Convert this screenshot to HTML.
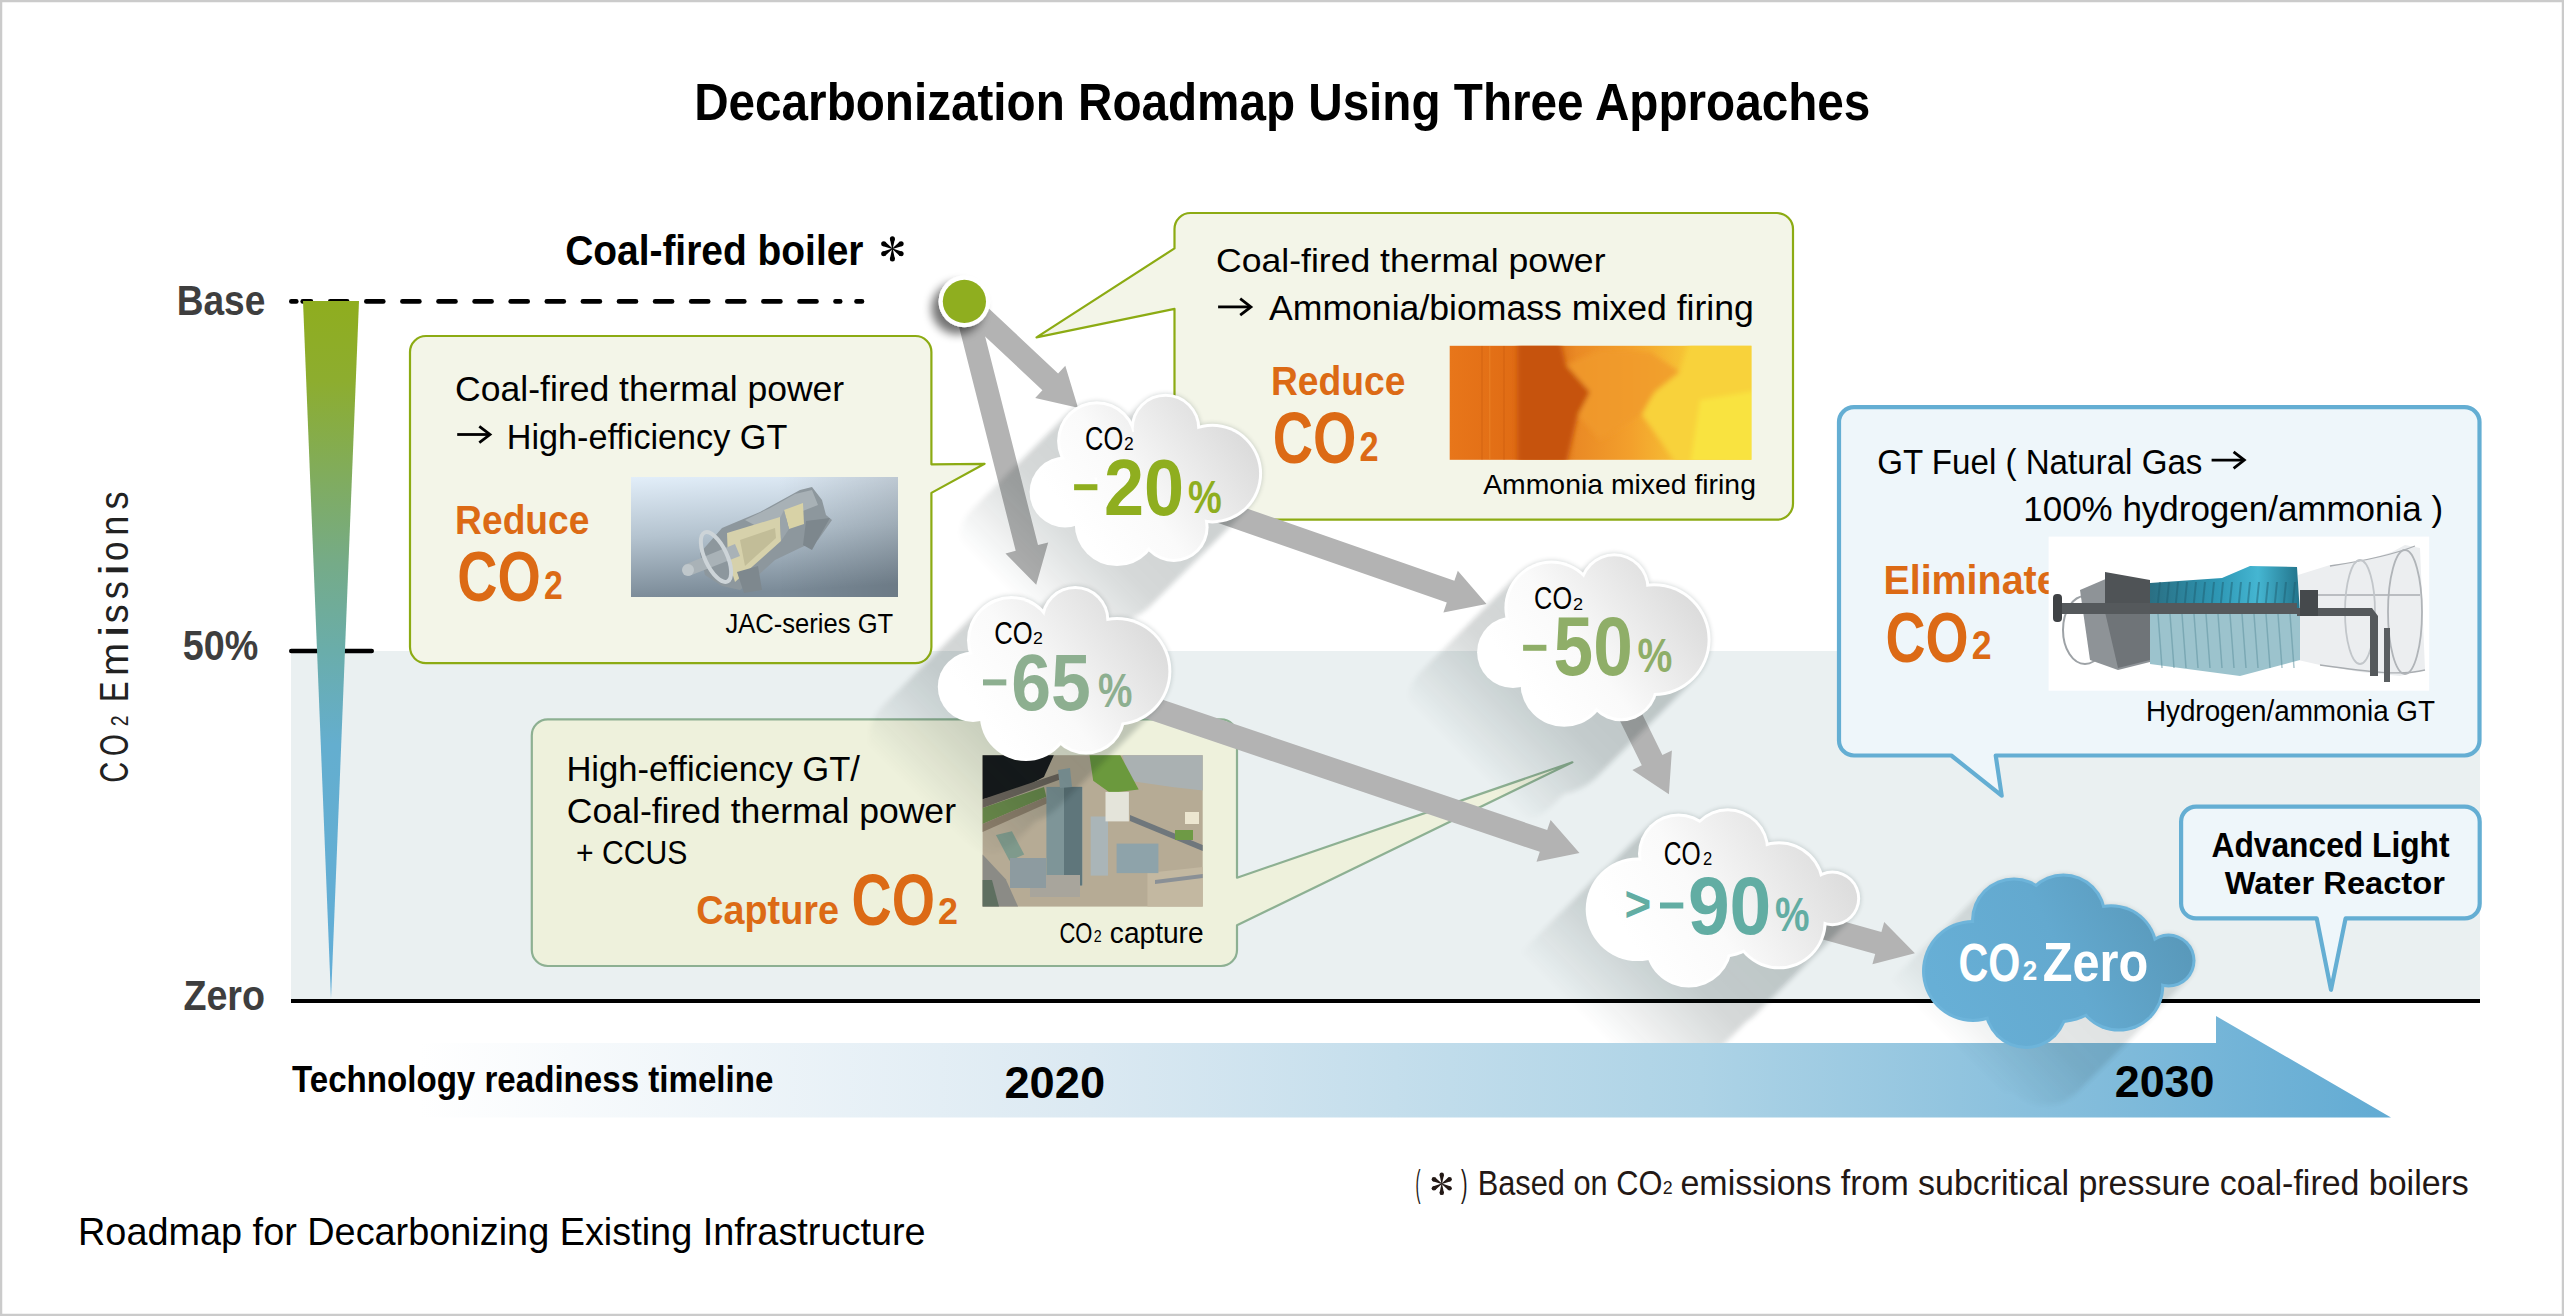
<!DOCTYPE html><html><head><meta charset="utf-8"><title>Decarbonization Roadmap</title><style>html,body{margin:0;padding:0;background:#fff;width:2564px;height:1316px;overflow:hidden}text{font-family:"Liberation Sans",sans-serif}</style></head><body><svg width="2564" height="1316" viewBox="0 0 2564 1316" style="display:block"><defs><g id="sil_c20"><circle cx="1096.9" cy="441" r="39.8"/><circle cx="1165.5" cy="428.5" r="34.8"/><circle cx="1212.3" cy="473.6" r="49.8"/><circle cx="1173.8" cy="527.2" r="34.8"/><circle cx="1117" cy="523.8" r="42.3"/><circle cx="1065.1" cy="492" r="35.5"/><circle cx="1147" cy="480" r="53"/></g><linearGradient id="g_c20" gradientUnits="userSpaceOnUse" x1="1082.6" y1="533.0999999999999" x2="1239.1" y2="416.7"><stop offset="0" stop-color="#ffffff"/><stop offset="0.35" stop-color="#fafafa"/><stop offset="1" stop-color="#d9d9d9"/></linearGradient><linearGradient id="sm_c20" gradientUnits="userSpaceOnUse" x1="1145.85" y1="479.9" x2="1020.8499999999999" y2="604.9"><stop offset="0" stop-color="#fff"/><stop offset="0.45" stop-color="#fff" stop-opacity="0.85"/><stop offset="0.75" stop-color="#fff" stop-opacity="0.4"/><stop offset="1" stop-color="#fff" stop-opacity="0"/></linearGradient><mask id="m_c20" maskUnits="userSpaceOnUse" x="0" y="0" width="2564" height="1316"><rect x="0" y="0" width="2564" height="1043" fill="url(#sm_c20)"/></mask><g id="sil_c65"><circle cx="1011.3" cy="640.3" r="44.3"/><circle cx="1075.2" cy="620.2" r="34.2"/><circle cx="1117.1" cy="671.3" r="54.3"/><circle cx="1086" cy="715" r="39.5"/><circle cx="1025.9" cy="715" r="46.1"/><circle cx="973" cy="686.8" r="35.2"/><circle cx="1050" cy="675" r="53"/></g><linearGradient id="g_c65" gradientUnits="userSpaceOnUse" x1="990.8" y1="728.1" x2="1148.3999999999999" y2="609.0"><stop offset="0" stop-color="#ffffff"/><stop offset="0.35" stop-color="#fafafa"/><stop offset="1" stop-color="#d9d9d9"/></linearGradient><linearGradient id="sm_c65" gradientUnits="userSpaceOnUse" x1="1054.6" y1="673.55" x2="924.5999999999999" y2="803.55"><stop offset="0" stop-color="#fff"/><stop offset="0.45" stop-color="#fff" stop-opacity="0.85"/><stop offset="0.75" stop-color="#fff" stop-opacity="0.4"/><stop offset="1" stop-color="#fff" stop-opacity="0"/></linearGradient><mask id="m_c65" maskUnits="userSpaceOnUse" x="0" y="0" width="2564" height="1316"><rect x="0" y="0" width="2564" height="1043" fill="url(#sm_c65)"/></mask><g id="sil_c50"><circle cx="1551.6" cy="607.8" r="47.2"/><circle cx="1614.3" cy="588.4" r="35.2"/><circle cx="1654.2" cy="639.7" r="56.4"/><circle cx="1621.2" cy="684.2" r="37.0"/><circle cx="1564.2" cy="683" r="43.8"/><circle cx="1512.9" cy="652.2" r="35.8"/><circle cx="1590" cy="640" r="53"/></g><linearGradient id="g_c50" gradientUnits="userSpaceOnUse" x1="1530.1000000000001" y1="693.8" x2="1687.6000000000001" y2="576.1999999999999"><stop offset="0" stop-color="#ffffff"/><stop offset="0.35" stop-color="#fafafa"/><stop offset="1" stop-color="#d9d9d9"/></linearGradient><linearGradient id="sm_c50" gradientUnits="userSpaceOnUse" x1="1593.8500000000001" y1="640.0" x2="1468.8500000000001" y2="765.0"><stop offset="0" stop-color="#fff"/><stop offset="0.45" stop-color="#fff" stop-opacity="0.85"/><stop offset="0.75" stop-color="#fff" stop-opacity="0.4"/><stop offset="1" stop-color="#fff" stop-opacity="0"/></linearGradient><mask id="m_c50" maskUnits="userSpaceOnUse" x="0" y="0" width="2564" height="1316"><rect x="0" y="0" width="2564" height="1043" fill="url(#sm_c50)"/></mask><g id="sil_c90"><circle cx="1678.5" cy="853.9" r="40.5"/><circle cx="1727.7" cy="849.8" r="41.5"/><circle cx="1779" cy="886.7" r="45.5"/><circle cx="1832.4" cy="898.4" r="27.8"/><circle cx="1779" cy="921.6" r="47.7"/><circle cx="1688.8" cy="944.1" r="43.5"/><circle cx="1637.5" cy="909.3" r="51.8"/><circle cx="1720" cy="900" r="58"/></g><linearGradient id="g_c90" gradientUnits="userSpaceOnUse" x1="1638.7" y1="954.6" x2="1837.2" y2="831.3"><stop offset="0" stop-color="#ffffff"/><stop offset="0.35" stop-color="#fafafa"/><stop offset="1" stop-color="#d9d9d9"/></linearGradient><linearGradient id="sm_c90" gradientUnits="userSpaceOnUse" x1="1722.95" y1="897.95" x2="1592.95" y2="1027.95"><stop offset="0" stop-color="#fff"/><stop offset="0.45" stop-color="#fff" stop-opacity="0.85"/><stop offset="0.75" stop-color="#fff" stop-opacity="0.4"/><stop offset="1" stop-color="#fff" stop-opacity="0"/></linearGradient><mask id="m_c90" maskUnits="userSpaceOnUse" x="0" y="0" width="2564" height="1316"><rect x="0" y="0" width="2564" height="1043" fill="url(#sm_c90)"/></mask><g id="sil_cz"><circle cx="2014" cy="920.5" r="43"/><circle cx="2063.4" cy="916.5" r="43"/><circle cx="2111.2" cy="951.2" r="47"/><circle cx="2168.5" cy="960.6" r="27"/><circle cx="2118.8" cy="986.1" r="45.5"/><circle cx="2026.1" cy="1007" r="42"/><circle cx="1973" cy="970.9" r="51"/><circle cx="2060" cy="965" r="58"/></g><linearGradient id="g_cz" gradientUnits="userSpaceOnUse" x1="1955" y1="1026" x2="2182.5" y2="906.5"><stop offset="0" stop-color="#67afd6"/><stop offset="0.5" stop-color="#63a9cf"/><stop offset="1" stop-color="#5897b8"/></linearGradient><linearGradient id="sm_cz" gradientUnits="userSpaceOnUse" x1="2058.75" y1="961.25" x2="1963.75" y2="1056.25"><stop offset="0" stop-color="#fff"/><stop offset="0.45" stop-color="#fff" stop-opacity="0.85"/><stop offset="0.75" stop-color="#fff" stop-opacity="0.4"/><stop offset="1" stop-color="#fff" stop-opacity="0"/></linearGradient><mask id="m_cz" maskUnits="userSpaceOnUse" x="0" y="0" width="2564" height="1316"><rect x="0" y="0" width="2564" height="1117" fill="url(#sm_cz)"/></mask><linearGradient id="band" gradientUnits="userSpaceOnUse" x1="420" y1="0" x2="2391" y2="0"><stop offset="0" stop-color="#ffffff"/><stop offset="0.34" stop-color="#dbe9f2"/><stop offset="0.65" stop-color="#add3e6"/><stop offset="1" stop-color="#62abd3"/></linearGradient><linearGradient id="wedge" gradientUnits="userSpaceOnUse" x1="0" y1="301" x2="0" y2="999"><stop offset="0" stop-color="#8fad1f"/><stop offset="0.115" stop-color="#8dad2f"/><stop offset="0.377" stop-color="#75ab88"/><stop offset="0.5" stop-color="#6aadaa"/><stop offset="0.636" stop-color="#64aecf"/><stop offset="1" stop-color="#62aed8"/></linearGradient><linearGradient id="jac" x1="0" y1="0" x2="0.12" y2="1"><stop offset="0" stop-color="#e2eef9"/><stop offset="0.5" stop-color="#b4c3cf"/><stop offset="1" stop-color="#7b8b98"/></linearGradient><linearGradient id="jac2" x1="0" y1="0" x2="1" y2="0"><stop offset="0.55" stop-color="#000" stop-opacity="0"/><stop offset="1" stop-color="#000" stop-opacity="0.12"/></linearGradient><linearGradient id="amm" x1="0" y1="0" x2="1" y2="0"><stop offset="0" stop-color="#e8761a"/><stop offset="0.22" stop-color="#e06c14"/><stop offset="0.3" stop-color="#d06010"/><stop offset="0.42" stop-color="#ea8a25"/><stop offset="0.6" stop-color="#f3a02c"/><stop offset="0.78" stop-color="#f6c436"/><stop offset="1" stop-color="#f8dc3c"/></linearGradient><clipPath id="ammclip"><rect x="1449.7" y="345.8" width="301.7" height="114"/></clipPath><filter id="blur2b" x="-10%" y="-10%" width="120%" height="120%"><feGaussianBlur stdDeviation="2.5"/></filter><linearGradient id="teal" x1="0" y1="0" x2="1" y2="0"><stop offset="0" stop-color="#2a6f83"/><stop offset="0.45" stop-color="#2e97b4"/><stop offset="0.72" stop-color="#45b6d2"/><stop offset="1" stop-color="#22738a"/></linearGradient><clipPath id="elclip"><rect x="1800" y="540" width="248.6" height="80"/></clipPath><filter id="dotsh" x="-50%" y="-50%" width="200%" height="200%"><feGaussianBlur in="SourceAlpha" stdDeviation="5"/><feOffset dx="-7" dy="7"/><feComponentTransfer><feFuncA type="linear" slope="0.55"/></feComponentTransfer><feMerge><feMergeNode/><feMergeNode in="SourceGraphic"/></feMerge></filter><filter id="blur4" x="-20%" y="-20%" width="140%" height="140%"><feGaussianBlur stdDeviation="4"/></filter><filter id="blur2" x="-20%" y="-20%" width="140%" height="140%"><feGaussianBlur stdDeviation="2.5"/></filter></defs><rect x="0" y="0" width="2564" height="1316" fill="#fff"/>
<rect x="1" y="1" width="2562" height="1314" fill="none" stroke="#cbcbcb" stroke-width="2.5"/>
<rect x="291" y="651" width="2189" height="350" fill="#eaf0f1"/>
<polygon fill="url(#band)" points="291,1043 2216,1043 2216,1016 2391,1117.5 291,1117.5"/>
<rect x="291" y="999" width="2189" height="4" fill="#000"/>
<line x1="291.3" y1="651" x2="371.7" y2="651" stroke="#000" stroke-width="4.6" stroke-linecap="round"/>
<line x1="291.3" y1="301.4" x2="296.3" y2="301.4" stroke="#000" stroke-width="4.6" stroke-linecap="round"/>
<line x1="302.7" y1="301.4" x2="311.0" y2="301.4" stroke="#000" stroke-width="4.6" stroke-linecap="round"/>
<line x1="330.2" y1="301.4" x2="347.2" y2="301.4" stroke="#000" stroke-width="4.6" stroke-linecap="round"/>
<line x1="366.3" y1="301.4" x2="383.3" y2="301.4" stroke="#000" stroke-width="4.6" stroke-linecap="round"/>
<line x1="402.4" y1="301.4" x2="419.4" y2="301.4" stroke="#000" stroke-width="4.6" stroke-linecap="round"/>
<line x1="438.5" y1="301.4" x2="455.5" y2="301.4" stroke="#000" stroke-width="4.6" stroke-linecap="round"/>
<line x1="474.59999999999997" y1="301.4" x2="491.59999999999997" y2="301.4" stroke="#000" stroke-width="4.6" stroke-linecap="round"/>
<line x1="510.7" y1="301.4" x2="527.7" y2="301.4" stroke="#000" stroke-width="4.6" stroke-linecap="round"/>
<line x1="546.8" y1="301.4" x2="563.8000000000001" y2="301.4" stroke="#000" stroke-width="4.6" stroke-linecap="round"/>
<line x1="582.9" y1="301.4" x2="599.9000000000001" y2="301.4" stroke="#000" stroke-width="4.6" stroke-linecap="round"/>
<line x1="619.0" y1="301.4" x2="636.0000000000001" y2="301.4" stroke="#000" stroke-width="4.6" stroke-linecap="round"/>
<line x1="655.0999999999999" y1="301.4" x2="672.1" y2="301.4" stroke="#000" stroke-width="4.6" stroke-linecap="round"/>
<line x1="691.1999999999999" y1="301.4" x2="708.2" y2="301.4" stroke="#000" stroke-width="4.6" stroke-linecap="round"/>
<line x1="727.3" y1="301.4" x2="744.3000000000001" y2="301.4" stroke="#000" stroke-width="4.6" stroke-linecap="round"/>
<line x1="763.4" y1="301.4" x2="780.4000000000001" y2="301.4" stroke="#000" stroke-width="4.6" stroke-linecap="round"/>
<line x1="799.5" y1="301.4" x2="816.5000000000001" y2="301.4" stroke="#000" stroke-width="4.6" stroke-linecap="round"/>
<line x1="835.5" y1="301.4" x2="840.2" y2="301.4" stroke="#000" stroke-width="4.6" stroke-linecap="round"/>
<line x1="856.5" y1="301.4" x2="862.0" y2="301.4" stroke="#000" stroke-width="4.6" stroke-linecap="round"/>
<polygon fill="url(#wedge)" points="303,301 359,301 331,999"/>
<path d="M426,336 L915.4,336 A16,16 0 0 1 931.4,352 L931.4,464.3 L984.6,463.8 L931.4,492.9 L931.4,647.1 A16,16 0 0 1 915.4,663.1 L426,663.1 A16,16 0 0 1 410,647.1 L410,352 A16,16 0 0 1 426,336 Z" fill="#f3f5e8" stroke="#8cab13" stroke-width="2.2" stroke-linejoin="round"/>
<path d="M1190.5,213 L1777,213 A16,16 0 0 1 1793,229 L1793,503.70000000000005 A16,16 0 0 1 1777,519.7 L1190.5,519.7 A16,16 0 0 1 1174.5,503.70000000000005 L1174.5,308.9 L1036.5,337.4 L1174.5,248.4 L1174.5,229 A16,16 0 0 1 1190.5,213 Z" fill="#f3f5e8" stroke="#8cab13" stroke-width="2.2" stroke-linejoin="round"/>
<path d="M547.8,719.4 L1221,719.4 A16,16 0 0 1 1237,735.4 L1237,877.7 L1572.4,762.3 L1237,925.2 L1237,950 A16,16 0 0 1 1221,966 L547.8,966 A16,16 0 0 1 531.8,950 L531.8,735.4 A16,16 0 0 1 547.8,719.4 Z" fill="#eef1dc" stroke="#8db092" stroke-width="2.2" stroke-linejoin="round"/>
<path d="M1854,407.1 L2464.5,407.1 A15,15 0 0 1 2479.5,422.1 L2479.5,740.5 A15,15 0 0 1 2464.5,755.5 L1995.7,755.5 L2001.7,795.7 L1951.3,755.5 L1854,755.5 A15,15 0 0 1 1839,740.5 L1839,422.1 A15,15 0 0 1 1854,407.1 Z" fill="#eef6fa" stroke="#64aed3" stroke-width="4.2" stroke-linejoin="round"/>
<path d="M2196.1,806.7 L2464.7,806.7 A15,15 0 0 1 2479.7,821.7 L2479.7,903.4 A15,15 0 0 1 2464.7,918.4 L2345.6,918.4 L2331,989.8 L2316.7,918.4 L2196.1,918.4 A15,15 0 0 1 2181.1,903.4 L2181.1,821.7 A15,15 0 0 1 2196.1,806.7 Z" fill="#eef6fa" stroke="#64aed3" stroke-width="4.2" stroke-linejoin="round"/>
<rect x="631" y="477" width="267" height="120" fill="url(#jac)"/>
<rect x="631" y="477" width="267" height="120" fill="url(#jac2)"/>
<g><polygon points="700,553 722,528 760,512 800,490 812,487 822,500 826,515 832,520 818,540 800,548 775,560 755,578 740,590 722,586 705,575" fill="#8d979d"/><polygon points="745,520 770,508 795,494 812,490 818,505 790,516 760,528" fill="#a8b1b6"/><polygon points="727,533 780,517 781,541 735,582 728,560" fill="#d6d1ab"/><polygon points="740,540 775,528 776,538 745,566" fill="#c2bd98"/><polygon points="784,510 803,503 804,524 789,529" fill="#d8d2a6"/><polygon points="780,518 784,510 789,529 781,541" fill="#9aa4aa"/><polygon points="806,521 830,518 822,532 812,550 803,545" fill="#7d878d"/><polygon points="737,572 758,566 762,590 744,593" fill="#7e888e"/><polygon points="684,565 735,544 740,556 689,576" fill="#a9b2b7"/><ellipse cx="716" cy="557" rx="11" ry="27" transform="rotate(-25 716 557)" fill="none" stroke="#cdd4d8" stroke-width="4"/><circle cx="688" cy="570" r="6" fill="#bfc7cb"/></g>
<rect x="1449.7" y="345.8" width="301.7" height="114" fill="url(#amm)"/>
<g clip-path="url(#ammclip)"><g filter="url(#blur2b)"><polygon points="1517.4,340 1559.8,340 1566,365 1590,392 1578,415 1566,465 1517.4,465" fill="#c65210"/><polygon points="1690,340 1760,340 1760,465 1677,465 1660,440 1642,415 1655,390 1680,370" fill="#f8d23a"/><polygon points="1700,400 1760,390 1760,465 1690,465" fill="#f9e341"/><polygon points="1566,365 1600,350 1650,352 1680,372 1655,392 1640,415 1600,440 1578,415 1590,392" fill="#f09a2c" opacity="0.8"/></g><g opacity="0.3"><rect x="1481" y="345.8" width="2" height="114" fill="#c65a10"/><rect x="1489" y="345.8" width="1.5" height="114" fill="#f59a38"/><rect x="1503" y="345.8" width="2" height="114" fill="#c65a10"/></g></g>
<g><rect x="982.6" y="755.2" width="220.1" height="151.4" fill="#b6ab95"/><polygon points="1122.7,755.2 1202.7,755.2 1202.7,790.6 1172,786.9 1128.9,780.8" fill="#aab1b2"/><polygon points="1089.5,755.2 1120.3,755.2 1138.7,789.4 1110.4,793.1 1093.2,780.8" fill="#6b993d"/><polygon points="982.6,755.2 1053.8,755.2 1043.9,777.1 1018.1,790.6 982.6,799.2" fill="#16181a"/><polygon points="982.6,799.2 1058.7,773.4 1060,779.5 982.6,807.9" fill="#6d655c"/><polygon points="982.6,807.9 1044,786.9 1046.4,796.8 982.6,823.9" fill="#6a8a4a"/><polygon points="982.6,823.9 1046.4,796.8 1048,803 982.6,832" fill="#8c7e6a"/><polygon points="982.6,854.6 1005.8,879.3 1018.1,906.6 982.6,906.6" fill="#8b8b86"/><polygon points="982.6,880 992,880 999,906.6 982.6,906.6" fill="#5e6f60"/><polygon points="995.9,835 1011.9,831.2 1024.2,854.6 1009.5,860.8" fill="#7f9a8c"/><polygon points="1130,815 1202.7,845 1202.7,851 1130,821" fill="#6f777c"/><polygon points="1147.4,873.1 1202.7,867 1202.7,906.6 1147.4,906.6" fill="#c3b8a1"/><polygon points="1155,880 1202.7,874 1202.7,878 1155,884 M1160,893 1202.7,888 1202.7,892 1160,897" fill="#8a9096"/><rect x="1116.6" y="843.6" width="41.8" height="29.5" fill="#8ea3aa"/><rect x="1046.4" y="786.9" width="36" height="98.5" fill="#7e9598"/><rect x="1064" y="786.9" width="18" height="98.5" fill="#5f767b"/><polygon points="1058,770 1070,768 1072,787 1060,788" fill="#8aa1a5"/><rect x="1090.7" y="816.5" width="17.3" height="59.1" fill="#aab5b8"/><rect x="1105.5" y="791.9" width="23.4" height="29.5" fill="#e4e4da"/><rect x="1030" y="875" width="50" height="22" fill="#a8a59c"/><rect x="1010" y="858" width="36" height="30" fill="#8d9ba0"/><rect x="1175" y="830" width="18" height="10" fill="#6e9a45"/><rect x="1185" y="812" width="14" height="12" fill="#ece6d0"/></g>
<g><rect x="2048.6" y="536.6" width="380.6" height="154.1" fill="#ffffff"/><path d="M2298,575 L2330,565 L2360,562 L2392,552 L2405,545 L2420,548 L2425,670 L2400,676 L2360,672 L2320,665 L2298,660 Z" fill="#eceef0"/><path d="M2330,566 C2370,560 2400,552 2415,546 M2320,665 C2370,672 2400,676 2425,670 M2300,595 L2420,595" stroke="#a9adb1" stroke-width="1.3" fill="none"/><ellipse cx="2405" cy="612" rx="17" ry="62" fill="none" stroke="#b0b4b8" stroke-width="1.8"/><ellipse cx="2360" cy="612" rx="15" ry="52" fill="none" stroke="#c2c6ca" stroke-width="1.8"/><ellipse cx="2085" cy="630" rx="22" ry="34" fill="none" stroke="#9da2a6" stroke-width="2"/><path d="M2080,590 L2115,575 L2150,582 L2150,662 L2118,670 L2090,660 Z" fill="#8e9397"/><path d="M2105,572 L2150,580 L2150,612 L2105,612 Z" fill="#4f5356"/><path d="M2105,612 L2150,612 L2150,660 L2118,668 Z" fill="#6f7478"/><path d="M2150,610 L2300,612 L2300,660 L2240,676 L2150,664 Z" fill="#9cc3cd"/><path d="M2150,583 L2222,578 L2250,566 L2297,567 L2300,614 L2150,612 Z" fill="url(#teal)"/><g stroke="#1d5a6c" stroke-width="2" opacity="0.45"><line x1="2160" y1="582" x2="2157" y2="612"/><line x1="2169" y1="582" x2="2166" y2="612"/><line x1="2178" y1="582" x2="2175" y2="612"/><line x1="2187" y1="582" x2="2184" y2="612"/><line x1="2196" y1="582" x2="2193" y2="612"/><line x1="2205" y1="582" x2="2202" y2="612"/><line x1="2214" y1="582" x2="2211" y2="612"/><line x1="2223" y1="582" x2="2220" y2="612"/><line x1="2232" y1="582" x2="2229" y2="612"/><line x1="2241" y1="582" x2="2238" y2="612"/><line x1="2250" y1="582" x2="2247" y2="612"/><line x1="2259" y1="582" x2="2256" y2="612"/><line x1="2268" y1="582" x2="2265" y2="612"/><line x1="2277" y1="582" x2="2274" y2="612"/><line x1="2286" y1="582" x2="2283" y2="612"/><line x1="2295" y1="582" x2="2292" y2="612"/></g><g stroke="#5b8f9c" stroke-width="1.5" opacity="0.5"><line x1="2158" y1="614" x2="2162" y2="668"/><line x1="2170" y1="614" x2="2174" y2="668"/><line x1="2182" y1="614" x2="2186" y2="668"/><line x1="2194" y1="614" x2="2198" y2="668"/><line x1="2206" y1="614" x2="2210" y2="668"/><line x1="2218" y1="614" x2="2222" y2="668"/><line x1="2230" y1="614" x2="2234" y2="668"/><line x1="2242" y1="614" x2="2246" y2="668"/><line x1="2254" y1="614" x2="2258" y2="668"/><line x1="2266" y1="614" x2="2270" y2="668"/><line x1="2278" y1="614" x2="2282" y2="668"/><line x1="2290" y1="614" x2="2294" y2="668"/></g><rect x="2057" y="603" width="240" height="11" fill="#55595c"/><rect x="2053" y="594" width="9" height="28" rx="4" fill="#3f4245"/><path d="M2297,608 L2372,608 L2378,616 L2378,676 L2370,676 L2370,616 L2297,616 Z" fill="#55595c"/><rect x="2384" y="628" width="6" height="54" fill="#5a5e61"/><rect x="2300" y="590" width="18" height="26" fill="#45494c"/></g>
<g font-family='"Liberation Sans", sans-serif'>
<text x="694.23" y="120" font-size="51.59" font-weight="bold" fill="#000" textLength="1176.02" lengthAdjust="spacingAndGlyphs">Decarbonization Roadmap Using Three Approaches</text>
<text x="565.13" y="264.8" font-size="41.71" font-weight="bold" fill="#000" textLength="298.38" lengthAdjust="spacingAndGlyphs">Coal-fired boiler</text>
<text x="176.63" y="314.5" font-size="41.59" font-weight="bold" fill="#3e3e3e" textLength="88.63" lengthAdjust="spacingAndGlyphs">Base</text>
<text x="182.82" y="659.7" font-size="42.32" font-weight="bold" fill="#3e3e3e" textLength="75.47" lengthAdjust="spacingAndGlyphs">50%</text>
<text x="183.39" y="1009.7" font-size="41.59" font-weight="bold" fill="#3e3e3e" textLength="81.61" lengthAdjust="spacingAndGlyphs">Zero</text>
<text x="455.14" y="400.6" font-size="34.57" font-weight="normal" fill="#000" textLength="389.09" lengthAdjust="spacingAndGlyphs">Coal-fired thermal power</text>
<text x="506.69" y="448.5" font-size="35.22" font-weight="normal" fill="#000" textLength="280.59" lengthAdjust="spacingAndGlyphs">High-efficiency GT</text>
<text x="455.11" y="534" font-size="41.46" font-weight="bold" fill="#dc6a15" textLength="134.31" lengthAdjust="spacingAndGlyphs">Reduce</text>
<text x="457.34" y="601" font-size="70.86" font-weight="bold" fill="#dc6a15" textLength="83.52" lengthAdjust="spacingAndGlyphs">CO</text>
<text x="543.95" y="599" font-size="40.0" font-weight="bold" fill="#dc6a15" textLength="18.8" lengthAdjust="spacingAndGlyphs">2</text>
<text x="725.5" y="632.9" font-size="28.55" font-weight="normal" fill="#000" textLength="167.65" lengthAdjust="spacingAndGlyphs">JAC-series GT</text>
<text x="1216.0" y="271.8" font-size="33.86" font-weight="normal" fill="#000" textLength="389.48" lengthAdjust="spacingAndGlyphs">Coal-fired thermal power</text>
<text x="1269.0" y="319.8" font-size="35.33" font-weight="normal" fill="#000" textLength="484.83" lengthAdjust="spacingAndGlyphs">Ammonia/biomass mixed firing</text>
<text x="1270.99" y="394.9" font-size="41.17" font-weight="bold" fill="#dc6a15" textLength="134.42" lengthAdjust="spacingAndGlyphs">Reduce</text>
<text x="1272.66" y="462.6" font-size="71.43" font-weight="bold" fill="#dc6a15" textLength="83.67" lengthAdjust="spacingAndGlyphs">CO</text>
<text x="1359.48" y="460.8" font-size="41.71" font-weight="bold" fill="#dc6a15" textLength="19.11" lengthAdjust="spacingAndGlyphs">2</text>
<text x="1483.2" y="494" font-size="27.74" font-weight="normal" fill="#000" textLength="272.74" lengthAdjust="spacingAndGlyphs">Ammonia mixed firing</text>
<text x="566.39" y="781" font-size="35.65" font-weight="normal" fill="#000" textLength="293.59" lengthAdjust="spacingAndGlyphs">High-efficiency GT/</text>
<text x="566.78" y="822.7" font-size="35.14" font-weight="normal" fill="#000" textLength="389.21" lengthAdjust="spacingAndGlyphs">Coal-fired thermal power</text>
<text x="576.03" y="863.7" font-size="34.0" font-weight="normal" fill="#000" textLength="111.43" lengthAdjust="spacingAndGlyphs">+ CCUS</text>
<text x="696.3" y="924.3" font-size="39.86" font-weight="bold" fill="#dc6a15" textLength="142.66" lengthAdjust="spacingAndGlyphs">Capture</text>
<text x="851.46" y="925.1" font-size="71.43" font-weight="bold" fill="#dc6a15" textLength="83.46" lengthAdjust="spacingAndGlyphs">CO</text>
<text x="938.04" y="923.5" font-size="37.57" font-weight="bold" fill="#dc6a15" textLength="19.96" lengthAdjust="spacingAndGlyphs">2</text>
<text x="1059.41" y="942.8" font-size="29.43" font-weight="normal" fill="#000" textLength="32.92" lengthAdjust="spacingAndGlyphs">CO</text>
<text x="1093.77" y="942.4" font-size="17.29" font-weight="normal" fill="#000" textLength="7.93" lengthAdjust="spacingAndGlyphs">2</text>
<text x="1109.84" y="942.8" font-size="29.43" font-weight="normal" fill="#000" textLength="93.8" lengthAdjust="spacingAndGlyphs">capture</text>
<text x="1877.27" y="473.8" font-size="34.29" font-weight="normal" fill="#000" textLength="325.11" lengthAdjust="spacingAndGlyphs">GT Fuel ( Natural Gas</text>
<text x="2023.28" y="520.6" font-size="34.78" font-weight="normal" fill="#000" textLength="419.77" lengthAdjust="spacingAndGlyphs">100% hydrogen/ammonia )</text>
<text x="1885.47" y="661.6" font-size="71.29" font-weight="bold" fill="#dc6a15" textLength="83.09" lengthAdjust="spacingAndGlyphs">CO</text>
<text x="1971.84" y="659.4" font-size="41.29" font-weight="bold" fill="#dc6a15" textLength="19.85" lengthAdjust="spacingAndGlyphs">2</text>
<text x="2145.91" y="720.9" font-size="29.42" font-weight="normal" fill="#000" textLength="289.08" lengthAdjust="spacingAndGlyphs">Hydrogen/ammonia GT</text>
<text x="2211.48" y="857.2" font-size="34.49" font-weight="bold" fill="#000" textLength="238.12" lengthAdjust="spacingAndGlyphs">Advanced Light</text>
<text x="2224.7" y="893.5" font-size="31.59" font-weight="bold" fill="#000" textLength="220.22" lengthAdjust="spacingAndGlyphs">Water Reactor</text>
<text x="292.0" y="1092.2" font-size="36.23" font-weight="bold" fill="#000" textLength="481.33" lengthAdjust="spacingAndGlyphs">Technology readiness timeline</text>
<text x="1004.43" y="1097.6" font-size="43.71" font-weight="bold" fill="#000" textLength="100.65" lengthAdjust="spacingAndGlyphs">2020</text>
<text x="2114.71" y="1097.4" font-size="45.0" font-weight="bold" fill="#000" textLength="99.8" lengthAdjust="spacingAndGlyphs">2030</text>
<text x="1477.7" y="1194.6" font-size="35.51" font-weight="normal" fill="#231815" textLength="184.64" lengthAdjust="spacingAndGlyphs">Based on CO</text>
<text x="1662.76" y="1193.5" font-size="18.86" font-weight="normal" fill="#231815" textLength="9.9" lengthAdjust="spacingAndGlyphs">2</text>
<text x="1680.49" y="1194.6" font-size="35.51" font-weight="normal" fill="#231815" textLength="788.35" lengthAdjust="spacingAndGlyphs">emissions from subcritical pressure coal-fired boilers</text>
<text x="1415.58" y="1195.9" font-size="36.55" font-weight="normal" fill="#231815" textLength="4.99" lengthAdjust="spacingAndGlyphs">(</text>
<text x="1460.97" y="1195.9" font-size="36.55" font-weight="normal" fill="#231815" textLength="6.49" lengthAdjust="spacingAndGlyphs">)</text>
<text x="78.06" y="1244.9" font-size="38.55" font-weight="normal" fill="#000" textLength="847.56" lengthAdjust="spacingAndGlyphs">Roadmap for Decarbonizing Existing Infrastructure</text>
<g clip-path="url(#elclip)"><text x="1883.41" y="594" font-size="40.87" font-weight="bold" fill="#dc6a15" textLength="175.19" lengthAdjust="spacingAndGlyphs">Eliminate</text></g>
</g>
<line x1="457.2" y1="434.5" x2="489" y2="434.5" stroke="#000" stroke-width="2.8"/><polyline points="479.3,426.3 490,434.5 479.3,442.7" fill="none" stroke="#000" stroke-width="2.8" stroke-linejoin="miter"/>
<line x1="1218.1" y1="306.9" x2="1249.9" y2="306.9" stroke="#000" stroke-width="2.8"/><polyline points="1240.2,298.7 1250.9,306.9 1240.2,315.09999999999997" fill="none" stroke="#000" stroke-width="2.8" stroke-linejoin="miter"/>
<line x1="2211.6" y1="460.1" x2="2243.3" y2="460.1" stroke="#000" stroke-width="2.8"/><polyline points="2233.6000000000004,451.90000000000003 2244.3,460.1 2233.6000000000004,468.3" fill="none" stroke="#000" stroke-width="2.8" stroke-linejoin="miter"/>
<g style="color:#000"><polygon fill="currentColor" points="892.75,248.80 894.90,238.70 889.90,238.70 892.05,248.80"/><circle cx="892.40" cy="238.70" r="2.5" fill="currentColor"/><polygon fill="currentColor" points="892.57,249.10 902.40,245.92 899.90,241.58 892.23,248.50"/><circle cx="901.15" cy="243.75" r="2.5" fill="currentColor"/><polygon fill="currentColor" points="892.57,248.50 884.90,241.58 882.40,245.92 892.23,249.10"/><circle cx="883.65" cy="243.75" r="2.5" fill="currentColor"/><polygon fill="currentColor" points="892.05,248.80 889.90,258.90 894.90,258.90 892.75,248.80"/><circle cx="892.40" cy="258.90" r="2.5" fill="currentColor"/><polygon fill="currentColor" points="892.23,248.50 882.40,251.68 884.90,256.02 892.57,249.10"/><circle cx="883.65" cy="253.85" r="2.5" fill="currentColor"/><polygon fill="currentColor" points="892.23,249.10 899.90,256.02 902.40,251.68 892.57,248.50"/><circle cx="901.15" cy="253.85" r="2.5" fill="currentColor"/></g>
<g style="color:#231815"><polygon fill="currentColor" points="1442.05,1183.80 1443.95,1174.70 1439.55,1174.70 1441.45,1183.80"/><circle cx="1441.75" cy="1174.70" r="2.2" fill="currentColor"/><polygon fill="currentColor" points="1441.90,1184.06 1450.73,1181.16 1448.53,1177.34 1441.60,1183.54"/><circle cx="1449.63" cy="1179.25" r="2.2" fill="currentColor"/><polygon fill="currentColor" points="1441.90,1183.54 1434.97,1177.34 1432.77,1181.16 1441.60,1184.06"/><circle cx="1433.87" cy="1179.25" r="2.2" fill="currentColor"/><polygon fill="currentColor" points="1441.45,1183.80 1439.55,1192.90 1443.95,1192.90 1442.05,1183.80"/><circle cx="1441.75" cy="1192.90" r="2.2" fill="currentColor"/><polygon fill="currentColor" points="1441.60,1183.54 1432.77,1186.44 1434.97,1190.26 1441.90,1184.06"/><circle cx="1433.87" cy="1188.35" r="2.2" fill="currentColor"/><polygon fill="currentColor" points="1441.60,1184.06 1448.53,1190.26 1450.73,1186.44 1441.90,1183.54"/><circle cx="1449.63" cy="1188.35" r="2.2" fill="currentColor"/></g>
<text transform="translate(127.6,781.3) rotate(-90)" x="-1.4" y="0" font-family='"Liberation Sans", sans-serif' font-size="41.4" font-weight="normal" fill="#222" textLength="20.93" lengthAdjust="spacingAndGlyphs">C</text>
<text transform="translate(127.6,754.6) rotate(-90)" x="-1.35" y="0" font-family='"Liberation Sans", sans-serif' font-size="41.4" font-weight="normal" fill="#222" textLength="21.74" lengthAdjust="spacingAndGlyphs">O</text>
<text transform="translate(127.6,725.5) rotate(-90)" x="-0.83" y="0" font-family='"Liberation Sans", sans-serif' font-size="23.5" font-weight="normal" fill="#222" textLength="10.82" lengthAdjust="spacingAndGlyphs">2</text>
<text transform="translate(127.6,699.8) rotate(-90)" x="-2.23" y="0" font-family='"Liberation Sans", sans-serif' font-size="41.4" font-weight="normal" fill="#222" textLength="20.53" lengthAdjust="spacingAndGlyphs">E</text>
<text transform="translate(127.6,673) rotate(-90)" x="-2.89" y="0" font-family='"Liberation Sans", sans-serif' font-size="41.4" font-weight="normal" fill="#222" textLength="33.18" lengthAdjust="spacingAndGlyphs">m</text>
<text transform="translate(127.6,633.5) rotate(-90)" x="-4.0" y="0" font-family='"Liberation Sans", sans-serif' font-size="41.4" font-weight="normal" fill="#222" textLength="12.27" lengthAdjust="spacingAndGlyphs">i</text>
<text transform="translate(127.6,621.5) rotate(-90)" x="-1.82" y="0" font-family='"Liberation Sans", sans-serif' font-size="41.4" font-weight="normal" fill="#222" textLength="18.88" lengthAdjust="spacingAndGlyphs">s</text>
<text transform="translate(127.6,597.6) rotate(-90)" x="-1.75" y="0" font-family='"Liberation Sans", sans-serif' font-size="41.4" font-weight="normal" fill="#222" textLength="18.15" lengthAdjust="spacingAndGlyphs">s</text>
<text transform="translate(127.6,572.1) rotate(-90)" x="-4.0" y="0" font-family='"Liberation Sans", sans-serif' font-size="41.4" font-weight="normal" fill="#222" textLength="12.27" lengthAdjust="spacingAndGlyphs">i</text>
<text transform="translate(127.6,559.4) rotate(-90)" x="-1.69" y="0" font-family='"Liberation Sans", sans-serif' font-size="41.4" font-weight="normal" fill="#222" textLength="19.52" lengthAdjust="spacingAndGlyphs">o</text>
<text transform="translate(127.6,533) rotate(-90)" x="-2.63" y="0" font-family='"Liberation Sans", sans-serif' font-size="41.4" font-weight="normal" fill="#222" textLength="20.19" lengthAdjust="spacingAndGlyphs">n</text>
<text transform="translate(127.6,507.8) rotate(-90)" x="-1.75" y="0" font-family='"Liberation Sans", sans-serif' font-size="41.4" font-weight="normal" fill="#222" textLength="18.15" lengthAdjust="spacingAndGlyphs">s</text>
<polygon fill="#b3b3b3" points="956.5,309.8 1042.4,390.2 1035.2,397.9 1078.0,407.8 1065.3,365.8 1058.1,373.4 972.3,293.0"/>
<polygon fill="#b3b3b3" points="953.3,304.2 1015.7,550.8 1005.5,553.4 1036.2,584.8 1048.2,542.6 1038.0,545.1 975.5,298.6"/>
<polygon fill="#b3b3b3" points="1146.2,497.9 1446.8,602.5 1443.4,612.4 1486.5,604.1 1457.8,570.8 1454.4,580.7 1153.8,476.1"/>
<polygon fill="#b3b3b3" points="1051.3,686.4 1539.8,851.8 1536.5,861.8 1579.5,853.1 1550.6,820.1 1547.2,830.0 1058.7,664.6"/>
<polygon fill="#b3b3b3" points="1582.7,645.1 1641.8,765.3 1632.4,769.9 1668.9,794.3 1671.9,750.5 1662.4,755.1 1603.3,634.9"/>
<polygon fill="#b3b3b3" points="1756.9,921.1 1875.2,954.1 1872.4,964.3 1914.9,953.3 1884.2,921.9 1881.4,932.0 1763.1,898.9"/>
<g mask="url(#m_c20)"><g opacity="0.2" fill="#102020" filter="url(#blur2)"><use href="#sil_c20" transform="translate(0.0,0.0)"/><use href="#sil_c20" transform="translate(-3.5,3.5)"/><use href="#sil_c20" transform="translate(-7.0,7.0)"/><use href="#sil_c20" transform="translate(-10.5,10.5)"/><use href="#sil_c20" transform="translate(-14.0,14.0)"/><use href="#sil_c20" transform="translate(-17.5,17.5)"/><use href="#sil_c20" transform="translate(-21.0,21.0)"/><use href="#sil_c20" transform="translate(-24.5,24.5)"/><use href="#sil_c20" transform="translate(-28.0,28.0)"/><use href="#sil_c20" transform="translate(-31.5,31.5)"/><use href="#sil_c20" transform="translate(-35.0,35.0)"/><use href="#sil_c20" transform="translate(-38.5,38.5)"/><use href="#sil_c20" transform="translate(-42.0,42.0)"/><use href="#sil_c20" transform="translate(-45.5,45.5)"/><use href="#sil_c20" transform="translate(-49.0,49.0)"/><use href="#sil_c20" transform="translate(-52.5,52.5)"/><use href="#sil_c20" transform="translate(-56.0,56.0)"/><use href="#sil_c20" transform="translate(-59.5,59.5)"/><use href="#sil_c20" transform="translate(-63.0,63.0)"/><use href="#sil_c20" transform="translate(-66.5,66.5)"/><use href="#sil_c20" transform="translate(-70.0,70.0)"/><use href="#sil_c20" transform="translate(-73.5,73.5)"/><use href="#sil_c20" transform="translate(-77.0,77.0)"/><use href="#sil_c20" transform="translate(-80.5,80.5)"/><use href="#sil_c20" transform="translate(-84.0,84.0)"/><use href="#sil_c20" transform="translate(-87.5,87.5)"/><use href="#sil_c20" transform="translate(-91.0,91.0)"/><use href="#sil_c20" transform="translate(-94.5,94.5)"/><use href="#sil_c20" transform="translate(-98.0,98.0)"/></g></g>
<g mask="url(#m_c65)"><g opacity="0.2" fill="#102020" filter="url(#blur2)"><use href="#sil_c65" transform="translate(0.0,0.0)"/><use href="#sil_c65" transform="translate(-3.5,3.5)"/><use href="#sil_c65" transform="translate(-7.0,7.0)"/><use href="#sil_c65" transform="translate(-10.5,10.5)"/><use href="#sil_c65" transform="translate(-14.0,14.0)"/><use href="#sil_c65" transform="translate(-17.5,17.5)"/><use href="#sil_c65" transform="translate(-21.0,21.0)"/><use href="#sil_c65" transform="translate(-24.5,24.5)"/><use href="#sil_c65" transform="translate(-28.0,28.0)"/><use href="#sil_c65" transform="translate(-31.5,31.5)"/><use href="#sil_c65" transform="translate(-35.0,35.0)"/><use href="#sil_c65" transform="translate(-38.5,38.5)"/><use href="#sil_c65" transform="translate(-42.0,42.0)"/><use href="#sil_c65" transform="translate(-45.5,45.5)"/><use href="#sil_c65" transform="translate(-49.0,49.0)"/><use href="#sil_c65" transform="translate(-52.5,52.5)"/><use href="#sil_c65" transform="translate(-56.0,56.0)"/><use href="#sil_c65" transform="translate(-59.5,59.5)"/><use href="#sil_c65" transform="translate(-63.0,63.0)"/><use href="#sil_c65" transform="translate(-66.5,66.5)"/><use href="#sil_c65" transform="translate(-70.0,70.0)"/><use href="#sil_c65" transform="translate(-73.5,73.5)"/><use href="#sil_c65" transform="translate(-77.0,77.0)"/><use href="#sil_c65" transform="translate(-80.5,80.5)"/><use href="#sil_c65" transform="translate(-84.0,84.0)"/><use href="#sil_c65" transform="translate(-87.5,87.5)"/><use href="#sil_c65" transform="translate(-91.0,91.0)"/><use href="#sil_c65" transform="translate(-94.5,94.5)"/><use href="#sil_c65" transform="translate(-98.0,98.0)"/></g></g>
<g mask="url(#m_c50)"><g opacity="0.2" fill="#102020" filter="url(#blur2)"><use href="#sil_c50" transform="translate(0.0,0.0)"/><use href="#sil_c50" transform="translate(-3.5,3.5)"/><use href="#sil_c50" transform="translate(-7.0,7.0)"/><use href="#sil_c50" transform="translate(-10.5,10.5)"/><use href="#sil_c50" transform="translate(-14.0,14.0)"/><use href="#sil_c50" transform="translate(-17.5,17.5)"/><use href="#sil_c50" transform="translate(-21.0,21.0)"/><use href="#sil_c50" transform="translate(-24.5,24.5)"/><use href="#sil_c50" transform="translate(-28.0,28.0)"/><use href="#sil_c50" transform="translate(-31.5,31.5)"/><use href="#sil_c50" transform="translate(-35.0,35.0)"/><use href="#sil_c50" transform="translate(-38.5,38.5)"/><use href="#sil_c50" transform="translate(-42.0,42.0)"/><use href="#sil_c50" transform="translate(-45.5,45.5)"/><use href="#sil_c50" transform="translate(-49.0,49.0)"/><use href="#sil_c50" transform="translate(-52.5,52.5)"/><use href="#sil_c50" transform="translate(-56.0,56.0)"/><use href="#sil_c50" transform="translate(-59.5,59.5)"/><use href="#sil_c50" transform="translate(-63.0,63.0)"/><use href="#sil_c50" transform="translate(-66.5,66.5)"/><use href="#sil_c50" transform="translate(-70.0,70.0)"/><use href="#sil_c50" transform="translate(-73.5,73.5)"/><use href="#sil_c50" transform="translate(-77.0,77.0)"/><use href="#sil_c50" transform="translate(-80.5,80.5)"/><use href="#sil_c50" transform="translate(-84.0,84.0)"/><use href="#sil_c50" transform="translate(-87.5,87.5)"/><use href="#sil_c50" transform="translate(-91.0,91.0)"/><use href="#sil_c50" transform="translate(-94.5,94.5)"/><use href="#sil_c50" transform="translate(-98.0,98.0)"/></g></g>
<g mask="url(#m_c90)"><g opacity="0.2" fill="#102020" filter="url(#blur2)"><use href="#sil_c90" transform="translate(0.0,0.0)"/><use href="#sil_c90" transform="translate(-3.5,3.5)"/><use href="#sil_c90" transform="translate(-7.0,7.0)"/><use href="#sil_c90" transform="translate(-10.5,10.5)"/><use href="#sil_c90" transform="translate(-14.0,14.0)"/><use href="#sil_c90" transform="translate(-17.5,17.5)"/><use href="#sil_c90" transform="translate(-21.0,21.0)"/><use href="#sil_c90" transform="translate(-24.5,24.5)"/><use href="#sil_c90" transform="translate(-28.0,28.0)"/><use href="#sil_c90" transform="translate(-31.5,31.5)"/><use href="#sil_c90" transform="translate(-35.0,35.0)"/><use href="#sil_c90" transform="translate(-38.5,38.5)"/><use href="#sil_c90" transform="translate(-42.0,42.0)"/><use href="#sil_c90" transform="translate(-45.5,45.5)"/><use href="#sil_c90" transform="translate(-49.0,49.0)"/><use href="#sil_c90" transform="translate(-52.5,52.5)"/><use href="#sil_c90" transform="translate(-56.0,56.0)"/><use href="#sil_c90" transform="translate(-59.5,59.5)"/><use href="#sil_c90" transform="translate(-63.0,63.0)"/><use href="#sil_c90" transform="translate(-66.5,66.5)"/><use href="#sil_c90" transform="translate(-70.0,70.0)"/><use href="#sil_c90" transform="translate(-73.5,73.5)"/><use href="#sil_c90" transform="translate(-77.0,77.0)"/><use href="#sil_c90" transform="translate(-80.5,80.5)"/><use href="#sil_c90" transform="translate(-84.0,84.0)"/><use href="#sil_c90" transform="translate(-87.5,87.5)"/><use href="#sil_c90" transform="translate(-91.0,91.0)"/><use href="#sil_c90" transform="translate(-94.5,94.5)"/><use href="#sil_c90" transform="translate(-98.0,98.0)"/></g></g>
<g mask="url(#m_cz)"><g opacity="0.13" fill="#102020" filter="url(#blur2)"><use href="#sil_cz" transform="translate(0.0,0.0)"/><use href="#sil_cz" transform="translate(-3.5,3.5)"/><use href="#sil_cz" transform="translate(-7.0,7.0)"/><use href="#sil_cz" transform="translate(-10.5,10.5)"/><use href="#sil_cz" transform="translate(-14.0,14.0)"/><use href="#sil_cz" transform="translate(-17.5,17.5)"/><use href="#sil_cz" transform="translate(-21.0,21.0)"/><use href="#sil_cz" transform="translate(-24.5,24.5)"/><use href="#sil_cz" transform="translate(-28.0,28.0)"/><use href="#sil_cz" transform="translate(-31.5,31.5)"/><use href="#sil_cz" transform="translate(-35.0,35.0)"/><use href="#sil_cz" transform="translate(-38.5,38.5)"/><use href="#sil_cz" transform="translate(-42.0,42.0)"/><use href="#sil_cz" transform="translate(-45.5,45.5)"/><use href="#sil_cz" transform="translate(-49.0,49.0)"/><use href="#sil_cz" transform="translate(-52.5,52.5)"/><use href="#sil_cz" transform="translate(-56.0,56.0)"/><use href="#sil_cz" transform="translate(-59.5,59.5)"/><use href="#sil_cz" transform="translate(-63.0,63.0)"/><use href="#sil_cz" transform="translate(-66.5,66.5)"/><use href="#sil_cz" transform="translate(-70.0,70.0)"/><use href="#sil_cz" transform="translate(-73.5,73.5)"/></g></g>
<g><circle cx="1096.9" cy="441" r="39.8" fill="#ffffff"/><circle cx="1165.5" cy="428.5" r="34.8" fill="#ffffff"/><circle cx="1212.3" cy="473.6" r="49.8" fill="#ffffff"/><circle cx="1173.8" cy="527.2" r="34.8" fill="#ffffff"/><circle cx="1117" cy="523.8" r="42.3" fill="#ffffff"/><circle cx="1065.1" cy="492" r="35.5" fill="#ffffff"/><circle cx="1147" cy="480" r="53" fill="#ffffff"/><g fill="url(#g_c20)"><circle cx="1096.9" cy="441" r="36.8"/><circle cx="1165.5" cy="428.5" r="31.799999999999997"/><circle cx="1212.3" cy="473.6" r="46.8"/><circle cx="1173.8" cy="527.2" r="31.799999999999997"/><circle cx="1117" cy="523.8" r="39.3"/><circle cx="1065.1" cy="492" r="32.5"/><circle cx="1147" cy="480" r="50"/></g></g>
<g><circle cx="1011.3" cy="640.3" r="44.3" fill="#ffffff"/><circle cx="1075.2" cy="620.2" r="34.2" fill="#ffffff"/><circle cx="1117.1" cy="671.3" r="54.3" fill="#ffffff"/><circle cx="1086" cy="715" r="39.5" fill="#ffffff"/><circle cx="1025.9" cy="715" r="46.1" fill="#ffffff"/><circle cx="973" cy="686.8" r="35.2" fill="#ffffff"/><circle cx="1050" cy="675" r="53" fill="#ffffff"/><g fill="url(#g_c65)"><circle cx="1011.3" cy="640.3" r="41.3"/><circle cx="1075.2" cy="620.2" r="31.200000000000003"/><circle cx="1117.1" cy="671.3" r="51.3"/><circle cx="1086" cy="715" r="36.5"/><circle cx="1025.9" cy="715" r="43.1"/><circle cx="973" cy="686.8" r="32.2"/><circle cx="1050" cy="675" r="50"/></g></g>
<g><circle cx="1551.6" cy="607.8" r="47.2" fill="#ffffff"/><circle cx="1614.3" cy="588.4" r="35.2" fill="#ffffff"/><circle cx="1654.2" cy="639.7" r="56.4" fill="#ffffff"/><circle cx="1621.2" cy="684.2" r="37.0" fill="#ffffff"/><circle cx="1564.2" cy="683" r="43.8" fill="#ffffff"/><circle cx="1512.9" cy="652.2" r="35.8" fill="#ffffff"/><circle cx="1590" cy="640" r="53" fill="#ffffff"/><g fill="url(#g_c50)"><circle cx="1551.6" cy="607.8" r="44.2"/><circle cx="1614.3" cy="588.4" r="32.2"/><circle cx="1654.2" cy="639.7" r="53.4"/><circle cx="1621.2" cy="684.2" r="34.0"/><circle cx="1564.2" cy="683" r="40.8"/><circle cx="1512.9" cy="652.2" r="32.8"/><circle cx="1590" cy="640" r="50"/></g></g>
<g><circle cx="1678.5" cy="853.9" r="40.5" fill="#ffffff"/><circle cx="1727.7" cy="849.8" r="41.5" fill="#ffffff"/><circle cx="1779" cy="886.7" r="45.5" fill="#ffffff"/><circle cx="1832.4" cy="898.4" r="27.8" fill="#ffffff"/><circle cx="1779" cy="921.6" r="47.7" fill="#ffffff"/><circle cx="1688.8" cy="944.1" r="43.5" fill="#ffffff"/><circle cx="1637.5" cy="909.3" r="51.8" fill="#ffffff"/><circle cx="1720" cy="900" r="58" fill="#ffffff"/><g fill="url(#g_c90)"><circle cx="1678.5" cy="853.9" r="37.5"/><circle cx="1727.7" cy="849.8" r="38.5"/><circle cx="1779" cy="886.7" r="42.5"/><circle cx="1832.4" cy="898.4" r="24.8"/><circle cx="1779" cy="921.6" r="44.7"/><circle cx="1688.8" cy="944.1" r="40.5"/><circle cx="1637.5" cy="909.3" r="48.8"/><circle cx="1720" cy="900" r="55"/></g></g>
<g><circle cx="2014" cy="920.5" r="43" fill="#6db4da"/><circle cx="2063.4" cy="916.5" r="43" fill="#6db4da"/><circle cx="2111.2" cy="951.2" r="47" fill="#6db4da"/><circle cx="2168.5" cy="960.6" r="27" fill="#6db4da"/><circle cx="2118.8" cy="986.1" r="45.5" fill="#6db4da"/><circle cx="2026.1" cy="1007" r="42" fill="#6db4da"/><circle cx="1973" cy="970.9" r="51" fill="#6db4da"/><circle cx="2060" cy="965" r="58" fill="#6db4da"/><g fill="url(#g_cz)"><circle cx="2014" cy="920.5" r="40"/><circle cx="2063.4" cy="916.5" r="40"/><circle cx="2111.2" cy="951.2" r="44"/><circle cx="2168.5" cy="960.6" r="24"/><circle cx="2118.8" cy="986.1" r="42.5"/><circle cx="2026.1" cy="1007" r="39"/><circle cx="1973" cy="970.9" r="48"/><circle cx="2060" cy="965" r="55"/></g></g>
<g font-family='"Liberation Sans", sans-serif'>
<text x="1085.07" y="450" font-size="33.14" font-weight="normal" fill="#000" textLength="38.13" lengthAdjust="spacingAndGlyphs">CO</text>
<text x="1124.08" y="450.4" font-size="19.0" font-weight="normal" fill="#000" textLength="9.76" lengthAdjust="spacingAndGlyphs">2</text>
<text x="1103.99" y="514.6" font-size="79.71" font-weight="bold" fill="#8fae1f" textLength="80.11" lengthAdjust="spacingAndGlyphs">20</text>
<text x="1187.99" y="512.7" font-size="47.05" font-weight="bold" fill="#8fae1f" textLength="33.79" lengthAdjust="spacingAndGlyphs">%</text>
<text x="994.16" y="643.9" font-size="31.29" font-weight="normal" fill="#000" textLength="38.4" lengthAdjust="spacingAndGlyphs">CO</text>
<text x="1032.96" y="644" font-size="17.14" font-weight="normal" fill="#000" textLength="9.89" lengthAdjust="spacingAndGlyphs">2</text>
<text x="1011.3" y="709.6" font-size="79.43" font-weight="bold" fill="#8daf90" textLength="79.6" lengthAdjust="spacingAndGlyphs">65</text>
<text x="1098.08" y="706.8" font-size="47.19" font-weight="bold" fill="#8daf90" textLength="34.41" lengthAdjust="spacingAndGlyphs">%</text>
<text x="1534.1" y="609.4" font-size="31.57" font-weight="normal" fill="#000" textLength="37.98" lengthAdjust="spacingAndGlyphs">CO</text>
<text x="1572.95" y="609.6" font-size="17.29" font-weight="normal" fill="#000" textLength="10.09" lengthAdjust="spacingAndGlyphs">2</text>
<text x="1553.62" y="675" font-size="82.61" font-weight="bold" fill="#8fae68" textLength="79.16" lengthAdjust="spacingAndGlyphs">50</text>
<text x="1637.48" y="671.6" font-size="47.48" font-weight="bold" fill="#8fae68" textLength="34.83" lengthAdjust="spacingAndGlyphs">%</text>
<text x="1663.68" y="864.6" font-size="32.43" font-weight="normal" fill="#000" textLength="36.94" lengthAdjust="spacingAndGlyphs">CO</text>
<text x="1702.99" y="864.6" font-size="18.14" font-weight="normal" fill="#000" textLength="9.21" lengthAdjust="spacingAndGlyphs">2</text>
<text x="1624.38" y="921.2" font-size="50.17" font-weight="bold" fill="#62ada3" textLength="26.72" lengthAdjust="spacingAndGlyphs">&gt;</text>
<text x="1687.93" y="933.9" font-size="81.29" font-weight="bold" fill="#62ada3" textLength="83.41" lengthAdjust="spacingAndGlyphs">90</text>
<text x="1775.08" y="931.2" font-size="47.19" font-weight="bold" fill="#62ada3" textLength="34.52" lengthAdjust="spacingAndGlyphs">%</text>
<text x="1958.48" y="980.8" font-size="54.29" font-weight="bold" fill="#fff" textLength="61.85" lengthAdjust="spacingAndGlyphs">CO</text>
<text x="2022.86" y="980.4" font-size="27.71" font-weight="bold" fill="#fff" textLength="14.47" lengthAdjust="spacingAndGlyphs">2</text>
<text x="2042.63" y="980.8" font-size="55.07" font-weight="bold" fill="#fff" textLength="105.63" lengthAdjust="spacingAndGlyphs">Zero</text>
</g>
<rect x="1074.1" y="484.2" width="23.3" height="6" fill="#8fae1f"/>
<rect x="983" y="679.4" width="23.3" height="6" fill="#8daf90"/>
<rect x="1523.1" y="644.8" width="23.3" height="6" fill="#8fae68"/>
<rect x="1660" y="902.5" width="23.3" height="6" fill="#62ada3"/>
<g filter="url(#dotsh)"><circle cx="964.4" cy="301.4" r="25.8" fill="#fff"/></g>
<circle cx="964.4" cy="301.4" r="21.6" fill="#8fae1f"/></svg></body></html>
